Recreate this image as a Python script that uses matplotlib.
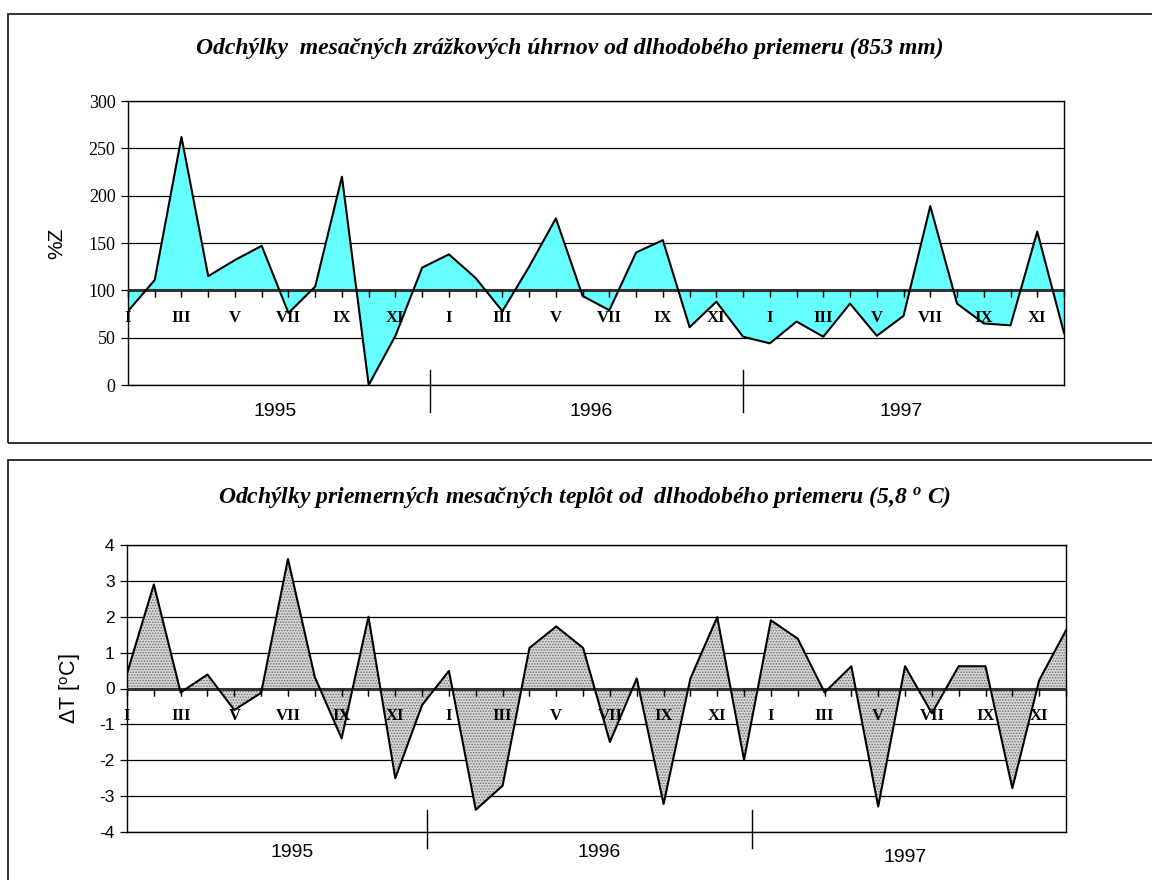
import matplotlib.pyplot as plt
import matplotlib.patches as mpatches
import numpy as np

plt.rcParams['mathtext.fontset'] = 'custom'
plt.rcParams['mathtext.rm'] = 'Liberation Sans'
plt.rcParams['mathtext.it'] = 'Liberation Serif:italic:bold'
plt.rcParams['hatch.linewidth'] = 0.7

# months Jan 1995 .. Dec 1997
month_labels = ['I', 'II', 'III', 'IV', 'V', 'VI', 'VII', 'VIII', 'IX', 'X', 'XI', 'XII']
years = ['1995', '1996', '1997']

# precipitation in % of long-term mean
precip = [78, 111, 262, 115, 132, 147, 76, 104, 220, 0, 52, 124,
          138, 113, 78, 125, 176, 94, 79, 140, 153, 61, 88, 51,
          44, 67, 51, 86, 52, 73, 189, 86, 65, 63, 162, 55]

# temperature deviation in deg C
temp = [0.42, 2.9, -0.11, 0.39, -0.6, -0.12, 3.61, 0.32, -1.39, 2.0, -2.5, -0.46,
        0.49, -3.38, -2.71, 1.13, 1.73, 1.13, -1.49, 0.28, -3.22, 0.28, 1.99, -1.99,
        1.9, 1.39, -0.11, 0.62, -3.29, 0.62, -0.69, 0.62, 0.62, -2.78, 0.23, 1.62]

SERIF = 'Liberation Serif'
SANS = 'Liberation Sans'

fig = plt.figure(figsize=(11.52, 8.8), dpi=100)

# outer frames
fig.patches.append(mpatches.Rectangle((8 / 1152, 1 - 443 / 880), 1.2, 429 / 880,
                                      transform=fig.transFigure, fill=False,
                                      edgecolor='#222222', lw=1.3))
fig.patches.append(mpatches.Rectangle((8 / 1152, -0.1), 1.2, 0.1 + 420 / 880,
                                      transform=fig.transFigure, fill=False,
                                      edgecolor='#222222', lw=1.3))


def draw_panel(ax, vals, base, ylim, yticks, fill_kw, tick_font, tick_size,
               sep_x, sep_y, year_x, year_y):
    x = np.arange(len(vals))
    ax.set_xlim(0, len(vals) - 1)
    ax.set_ylim(*ylim)
    for yt in yticks:
        ax.axhline(yt, color='black', lw=0.9, zorder=1)
    ax.fill_between(x, vals, base, zorder=2, linewidth=0, **fill_kw)
    ax.axhline(base, color='#333333', lw=2.2, zorder=3)
    ax.plot(x, vals, color='black', lw=1.5, zorder=4)

    ax.set_xticks([])
    ax.set_yticks(yticks)
    ax.set_yticklabels([str(v) for v in yticks], fontfamily=tick_font, fontsize=tick_size)
    ax.tick_params(axis='y', length=5, width=0.9, pad=4)
    for s in ax.spines.values():
        s.set_linewidth(1.0)

    # month ticks on the baseline and roman labels
    for i in x:
        ax.plot([i, i], [base, base], marker=3, markersize=5, color='black',
                mew=0.9, zorder=5, clip_on=False)
        if i % 2 == 0:
            ax.annotate(month_labels[i % 12], xy=(i, base), xytext=(0, -20),
                        textcoords='offset points', ha='center', va='center',
                        fontfamily=SERIF, fontweight='bold', fontsize=12, zorder=6)

    tr = ax.get_xaxis_transform()
    for sx in sep_x:
        ax.plot([sx, sx], sep_y, color='black', lw=1.0, transform=tr, clip_on=False)
    for yr, yx, yy in zip(years, year_x, year_y):
        ax.text(yx, yy, yr, transform=tr, ha='center', va='center',
                fontfamily=SANS, fontsize=14)


# top panel: precipitation
ax1 = fig.add_axes([128 / 1152, 1 - 385 / 880, 936 / 1152, 284 / 880])
draw_panel(ax1, precip, 100, (0, 300), [0, 50, 100, 150, 200, 250, 300],
           dict(facecolor='#66ffff'), SERIF, 13,
           [11.3, 23.0], [0.053, -0.095], [5.5, 17.3, 28.9], [-0.092] * 3)
ax1.set_ylabel('%Z', fontfamily=SANS, fontsize=15, labelpad=16)
fig.text(570 / 1152, 1 - 48 / 880,
         'Odchýlky  mesačných zrážkových úhrnov od dlhodobého priemeru (853 mm)',
         ha='center', va='center', fontfamily=SERIF, fontstyle='italic',
         fontweight='bold', fontsize=17)

# bottom panel: temperature
ax2 = fig.add_axes([127 / 1152, 1 - 832 / 880, 939 / 1152, 287 / 880])
draw_panel(ax2, temp, 0, (-4, 4), [-4, -3, -2, -1, 0, 1, 2, 3, 4],
           dict(facecolor='#d6d6d6', edgecolor='#6e6e6e', hatch='......'), SANS, 12.5,
           [11.18, 23.3], [0.077, -0.056], [6.15, 17.6, 29.0], [-0.073, -0.073, -0.09])
ax2.set_ylabel(r'$\Delta$T [$^{\rm o}$C]', fontfamily=SANS, fontsize=15.5, labelpad=12)
fig.text(585 / 1152, 1 - 497 / 880,
         r'Odchýlky priemerných mesačných teplôt od  dlhodobého priemeru (5,8 $^{o}$ C)',
         ha='center', va='center', fontfamily=SERIF, fontstyle='italic',
         fontweight='bold', fontsize=17)

fig.savefig('out.png', dpi=100)
plt.close(fig)
